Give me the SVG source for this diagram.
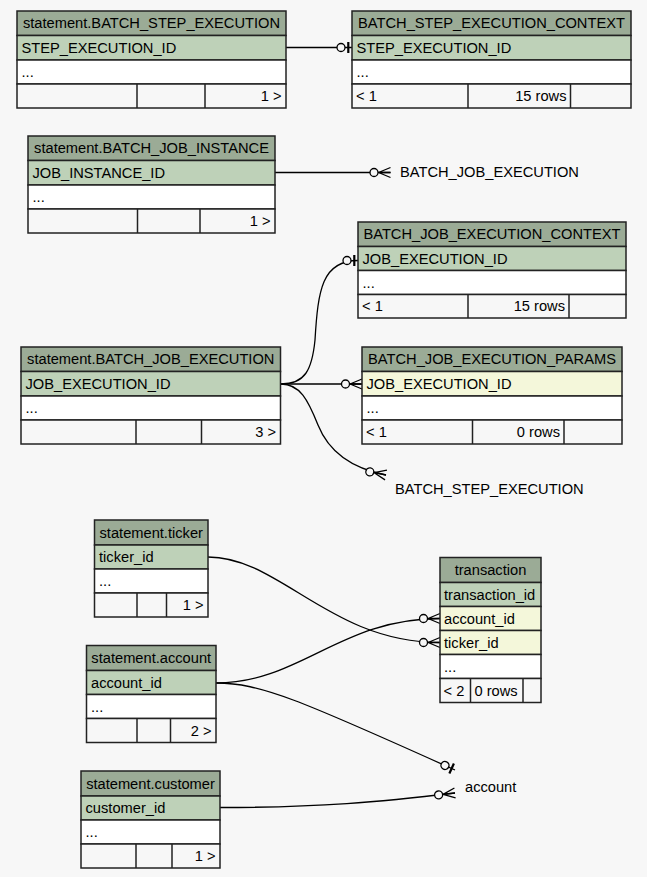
<svg xmlns="http://www.w3.org/2000/svg" width="647" height="877" viewBox="0 0 647 877">
<style>
text{font-family:"Liberation Sans",Arial,Helvetica,sans-serif;font-size:14.67px;fill:#000}
.c{text-anchor:middle}
.r{text-anchor:end}
.hdr{fill:#9bab96}
.pk{fill:#bed1b8}
.fk{fill:#f4f7da}
.col{fill:#ffffff}
.ftr{fill:#f7f7f7}
.t rect{stroke:#222;stroke-width:1.5}
.t line{stroke:#222;stroke-width:1.5}
.e{fill:none;stroke:#000;stroke-width:1.3}
</style>
<defs>
<marker id="crowodot" markerUnits="userSpaceOnUse" orient="auto" viewBox="-23 -10 25 20" markerWidth="25" markerHeight="20" refX="0" refY="0">
<path d="M-12,0L0,-5M-12,0L0,0M-12,0L0,5" fill="none" stroke="#000" stroke-width="1.3"/>
<circle cx="-16.5" cy="0" r="4" fill="#f7f7f7" stroke="#000" stroke-width="1.3"/>
</marker>
<marker id="teeodot" markerUnits="userSpaceOnUse" orient="auto" viewBox="-18 -10 20 20" markerWidth="20" markerHeight="20" refX="0" refY="0">
<circle cx="-11" cy="0" r="4" fill="#f7f7f7" stroke="#000" stroke-width="1.3"/>
<rect x="-4.8" y="-5.5" width="2.2" height="11" fill="#000"/>
</marker>
</defs>
<rect x="0" y="0" width="647" height="877" fill="#f7f7f7"/>

<g id="connectors">
<path class="e" d="M286,47.5H352" marker-end="url(#teeodot)"/>
<path class="e" d="M275,172.5H390.5" marker-end="url(#crowodot)"/>
<path class="e" d="M281,384C305,384 312,370 315,340C318,290 322,260.5 358,260.5" marker-end="url(#teeodot)"/>
<path class="e" d="M281,384H362" marker-end="url(#crowodot)"/>
<path class="e" d="M281,384C300,384 308,400 318,425C328,450 350,468 386,475" marker-end="url(#crowodot)"/>
<path class="e" d="M208,557C280,557 330,642.5 440,642.5" marker-end="url(#crowodot)"/>
<path class="e" d="M216,683C300,683 340,618.5 440,618.5" marker-end="url(#crowodot)"/>
<path class="e" d="M216,683C260,683 300,700 455,770" marker-end="url(#teeodot)"/>
<path class="e" d="M220,807.5C320,807.5 380,802 455,793" marker-end="url(#crowodot)"/>
</g>

<g id="lbl_batch_job_execution"><text x="400" y="177">BATCH_JOB_EXECUTION</text></g>
<g id="lbl_batch_step_execution"><text x="395" y="493.5">BATCH_STEP_EXECUTION</text></g>
<g id="lbl_account"><text x="465" y="791.5">account</text></g>

<g id="statement_BATCH_STEP_EXECUTION" class="t">
<rect class="hdr" x="17" y="11" width="269" height="24.5"/>
<rect class="pk" x="17" y="35.5" width="269" height="24.5"/>
<rect class="col" x="17" y="60" width="269" height="24"/>
<rect class="ftr" x="17" y="84" width="269" height="24"/>
<line x1="137" y1="84" x2="137" y2="108"/><line x1="205" y1="84" x2="205" y2="108"/>
<text class="c" x="151.5" y="28">statement.BATCH_STEP_EXECUTION</text>
<text x="21.5" y="52.5">STEP_EXECUTION_ID</text>
<text x="21.5" y="77">...</text>
<text class="r" x="281.5" y="101">1 &gt;</text>
</g>

<g id="BATCH_STEP_EXECUTION_CONTEXT" class="t">
<rect class="hdr" x="352" y="11" width="279" height="24.5"/>
<rect class="pk" x="352" y="35.5" width="279" height="24.5"/>
<rect class="col" x="352" y="60" width="279" height="24"/>
<rect class="ftr" x="352" y="84" width="279" height="24"/>
<line x1="468" y1="84" x2="468" y2="108"/><line x1="570.5" y1="84" x2="570.5" y2="108"/>
<text class="c" x="491.5" y="28">BATCH_STEP_EXECUTION_CONTEXT</text>
<text x="356.5" y="52.5">STEP_EXECUTION_ID</text>
<text x="356.5" y="77">...</text>
<text x="356" y="101">&lt; 1</text>
<text class="r" x="566.5" y="101">15 rows</text>
</g>

<g id="statement_BATCH_JOB_INSTANCE" class="t">
<rect class="hdr" x="28" y="136" width="247" height="24.5"/>
<rect class="pk" x="28" y="160.5" width="247" height="24.5"/>
<rect class="col" x="28" y="185" width="247" height="24"/>
<rect class="ftr" x="28" y="209" width="247" height="24"/>
<line x1="137.5" y1="209" x2="137.5" y2="233"/><line x1="200" y1="209" x2="200" y2="233"/>
<text class="c" x="151.5" y="153">statement.BATCH_JOB_INSTANCE</text>
<text x="32.5" y="177.5">JOB_INSTANCE_ID</text>
<text x="32.5" y="202">...</text>
<text class="r" x="270.5" y="226">1 &gt;</text>
</g>

<g id="BATCH_JOB_EXECUTION_CONTEXT" class="t">
<rect class="hdr" x="358" y="222" width="268" height="24.5"/>
<rect class="pk" x="358" y="246.5" width="268" height="24"/>
<rect class="col" x="358" y="270.5" width="268" height="24"/>
<rect class="ftr" x="358" y="294.5" width="268" height="23.5"/>
<line x1="468" y1="294.5" x2="468" y2="318"/><line x1="569" y1="294.5" x2="569" y2="318"/>
<text class="c" x="492" y="239">BATCH_JOB_EXECUTION_CONTEXT</text>
<text x="362.5" y="263.5">JOB_EXECUTION_ID</text>
<text x="362.5" y="287.5">...</text>
<text x="362" y="311">&lt; 1</text>
<text class="r" x="565" y="311">15 rows</text>
</g>

<g id="statement_BATCH_JOB_EXECUTION" class="t">
<rect class="hdr" x="21" y="347" width="259.5" height="24.5"/>
<rect class="pk" x="21" y="371.5" width="259.5" height="24.5"/>
<rect class="col" x="21" y="396" width="259.5" height="24"/>
<rect class="ftr" x="21" y="420" width="259.5" height="24"/>
<line x1="136" y1="420" x2="136" y2="444"/><line x1="201.5" y1="420" x2="201.5" y2="444"/>
<text class="c" x="150.75" y="364">statement.BATCH_JOB_EXECUTION</text>
<text x="25.5" y="388.5">JOB_EXECUTION_ID</text>
<text x="25.5" y="413">...</text>
<text class="r" x="276" y="437">3 &gt;</text>
</g>

<g id="BATCH_JOB_EXECUTION_PARAMS" class="t">
<rect class="hdr" x="362" y="347" width="260" height="24.5"/>
<rect class="fk" x="362" y="371.5" width="260" height="24.5"/>
<rect class="col" x="362" y="396" width="260" height="24"/>
<rect class="ftr" x="362" y="420" width="260" height="24"/>
<line x1="472.5" y1="420" x2="472.5" y2="444"/><line x1="564" y1="420" x2="564" y2="444"/>
<text class="c" x="492" y="364">BATCH_JOB_EXECUTION_PARAMS</text>
<text x="366.5" y="388.5">JOB_EXECUTION_ID</text>
<text x="366.5" y="413">...</text>
<text x="366" y="437">&lt; 1</text>
<text class="r" x="560" y="437">0 rows</text>
</g>

<g id="statement_ticker" class="t">
<rect class="hdr" x="94.5" y="520" width="113.5" height="25"/>
<rect class="pk" x="94.5" y="545" width="113.5" height="24"/>
<rect class="col" x="94.5" y="569" width="113.5" height="24"/>
<rect class="ftr" x="94.5" y="593" width="113.5" height="24"/>
<line x1="137" y1="593" x2="137" y2="617"/><line x1="166.5" y1="593" x2="166.5" y2="617"/>
<text class="c" x="151.25" y="537.5">statement.ticker</text>
<text x="99" y="562">ticker_id</text>
<text x="99" y="586">...</text>
<text class="r" x="203.5" y="610">1 &gt;</text>
</g>

<g id="transaction" class="t">
<rect class="hdr" x="440" y="557.5" width="101" height="25"/>
<rect class="pk" x="440" y="582.5" width="101" height="24"/>
<rect class="fk" x="440" y="606.5" width="101" height="24"/>
<rect class="fk" x="440" y="630.5" width="101" height="24"/>
<rect class="col" x="440" y="654.5" width="101" height="24"/>
<rect class="ftr" x="440" y="678.5" width="101" height="24"/>
<line x1="470.5" y1="678.5" x2="470.5" y2="702.5"/><line x1="523" y1="678.5" x2="523" y2="702.5"/>
<text class="c" x="490.5" y="575">transaction</text>
<text x="444" y="599.5">transaction_id</text>
<text x="444" y="623.5">account_id</text>
<text x="444" y="647.5">ticker_id</text>
<text x="444" y="671.5">...</text>
<text x="443.5" y="695.5">&lt; 2</text>
<text x="474.5" y="695.5">0 rows</text>
</g>

<g id="statement_account" class="t">
<rect class="hdr" x="86.5" y="645.5" width="129.5" height="25"/>
<rect class="pk" x="86.5" y="670.5" width="129.5" height="24"/>
<rect class="col" x="86.5" y="694.5" width="129.5" height="24"/>
<rect class="ftr" x="86.5" y="718.5" width="129.5" height="24"/>
<line x1="137" y1="718.5" x2="137" y2="742.5"/><line x1="170.5" y1="718.5" x2="170.5" y2="742.5"/>
<text class="c" x="151.25" y="663">statement.account</text>
<text x="91" y="687.5">account_id</text>
<text x="91" y="711.5">...</text>
<text class="r" x="211.5" y="735.5">2 &gt;</text>
</g>

<g id="statement_customer" class="t">
<rect class="hdr" x="81" y="771" width="139" height="25"/>
<rect class="pk" x="81" y="796" width="139" height="24"/>
<rect class="col" x="81" y="820" width="139" height="24"/>
<rect class="ftr" x="81" y="844" width="139" height="24"/>
<line x1="136" y1="844" x2="136" y2="868"/><line x1="172" y1="844" x2="172" y2="868"/>
<text class="c" x="150.5" y="788.5">statement.customer</text>
<text x="85.5" y="813">customer_id</text>
<text x="85.5" y="837">...</text>
<text class="r" x="215.5" y="861">1 &gt;</text>
</g>
</svg>
